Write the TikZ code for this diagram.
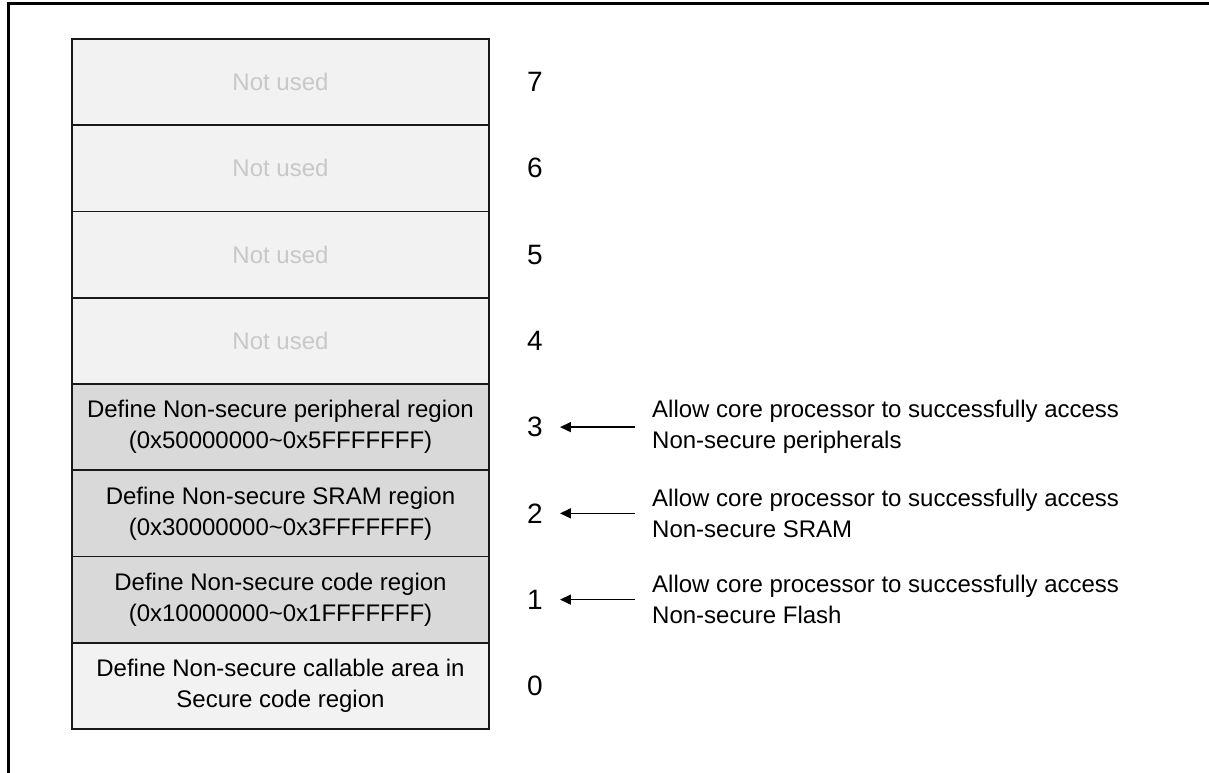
\documentclass[tikz,border=0pt]{standalone}
\usepackage{fontspec}
\setmainfont{Liberation Sans}
\usetikzlibrary{positioning,arrows.meta}
\definecolor{lightfill}{HTML}{F2F2F2}
\definecolor{darkfill}{HTML}{D9D9D9}
\definecolor{fadedtext}{HTML}{C8C8C8}

\begin{document}
\begin{tikzpicture}[
    x=1pt, y=-1pt,
    node distance=0pt,
    region/.style={rectangle, draw=black!90, line width=1.6pt, outer sep=0pt, inner sep=0pt, minimum width=417pt, minimum height=86.25pt, align=center, font=\fontsize{24}{31}\selectfont},
    unused/.style={region, fill=lightfill, text=fadedtext},
    nsregion/.style={region, fill=darkfill},
    regnum/.style={inner sep=0pt, font=\fontsize{28}{32}\selectfont},
    note/.style={inner sep=0pt, align=left, font=\fontsize{24}{31}\selectfont},
    arrow/.style={-{Triangle[length=11pt, width=10pt]}, line width=1.5pt, shorten <=17pt, shorten >=17pt},
    frame/.style={line width=3pt}
]
\useasboundingbox (0,0) rectangle (1209,773);

% Outer frame
\draw[frame] (1209,4) -- (8,4) -- (8,773);

% Regions
\node[unused] (reg7) at (280.5,82.1) {Not used};
\node[unused, below=of reg7] (reg6) {Not used};
\node[unused, below=of reg6] (reg5) {Not used};
\node[unused, below=of reg5] (reg4) {Not used};
\node[nsregion, below=of reg4] (reg3) {Define Non-secure peripheral region\\(0x50000000\textasciitilde 0x5FFFFFFF)};
\node[nsregion, below=of reg3] (reg2) {Define Non-secure SRAM region\\(0x30000000\textasciitilde 0x3FFFFFFF)};
\node[nsregion, below=of reg2] (reg1) {Define Non-secure code region\\(0x10000000\textasciitilde 0x1FFFFFFF)};
\node[region, fill=lightfill, below=of reg1] (reg0) {Define Non-secure callable area in\\Secure code region};

% Region numbers
\node[regnum, right=38pt of reg7] (num7) {7};
\node[regnum, right=38pt of reg6] (num6) {6};
\node[regnum, right=38pt of reg5] (num5) {5};
\node[regnum, right=38pt of reg4] (num4) {4};
\node[regnum, right=38pt of reg3] (num3) {3};
\node[regnum, right=38pt of reg2] (num2) {2};
\node[regnum, right=38pt of reg1] (num1) {1};
\node[regnum, right=38pt of reg0] (num0) {0};

% Notes
\node[note, right=109pt of num3] (note3) {Allow core processor to successfully access\\Non-secure peripherals};
\node[note, right=109pt of num2] (note2) {Allow core processor to successfully access\\Non-secure SRAM};
\node[note, right=109pt of num1] (note1) {Allow core processor to successfully access\\Non-secure Flash};

\draw[arrow] (note3.west) -- (num3.east);
\draw[arrow] (note2.west) -- (num2.east);
\draw[arrow] (note1.west) -- (num1.east);

\end{tikzpicture}
\end{document}
